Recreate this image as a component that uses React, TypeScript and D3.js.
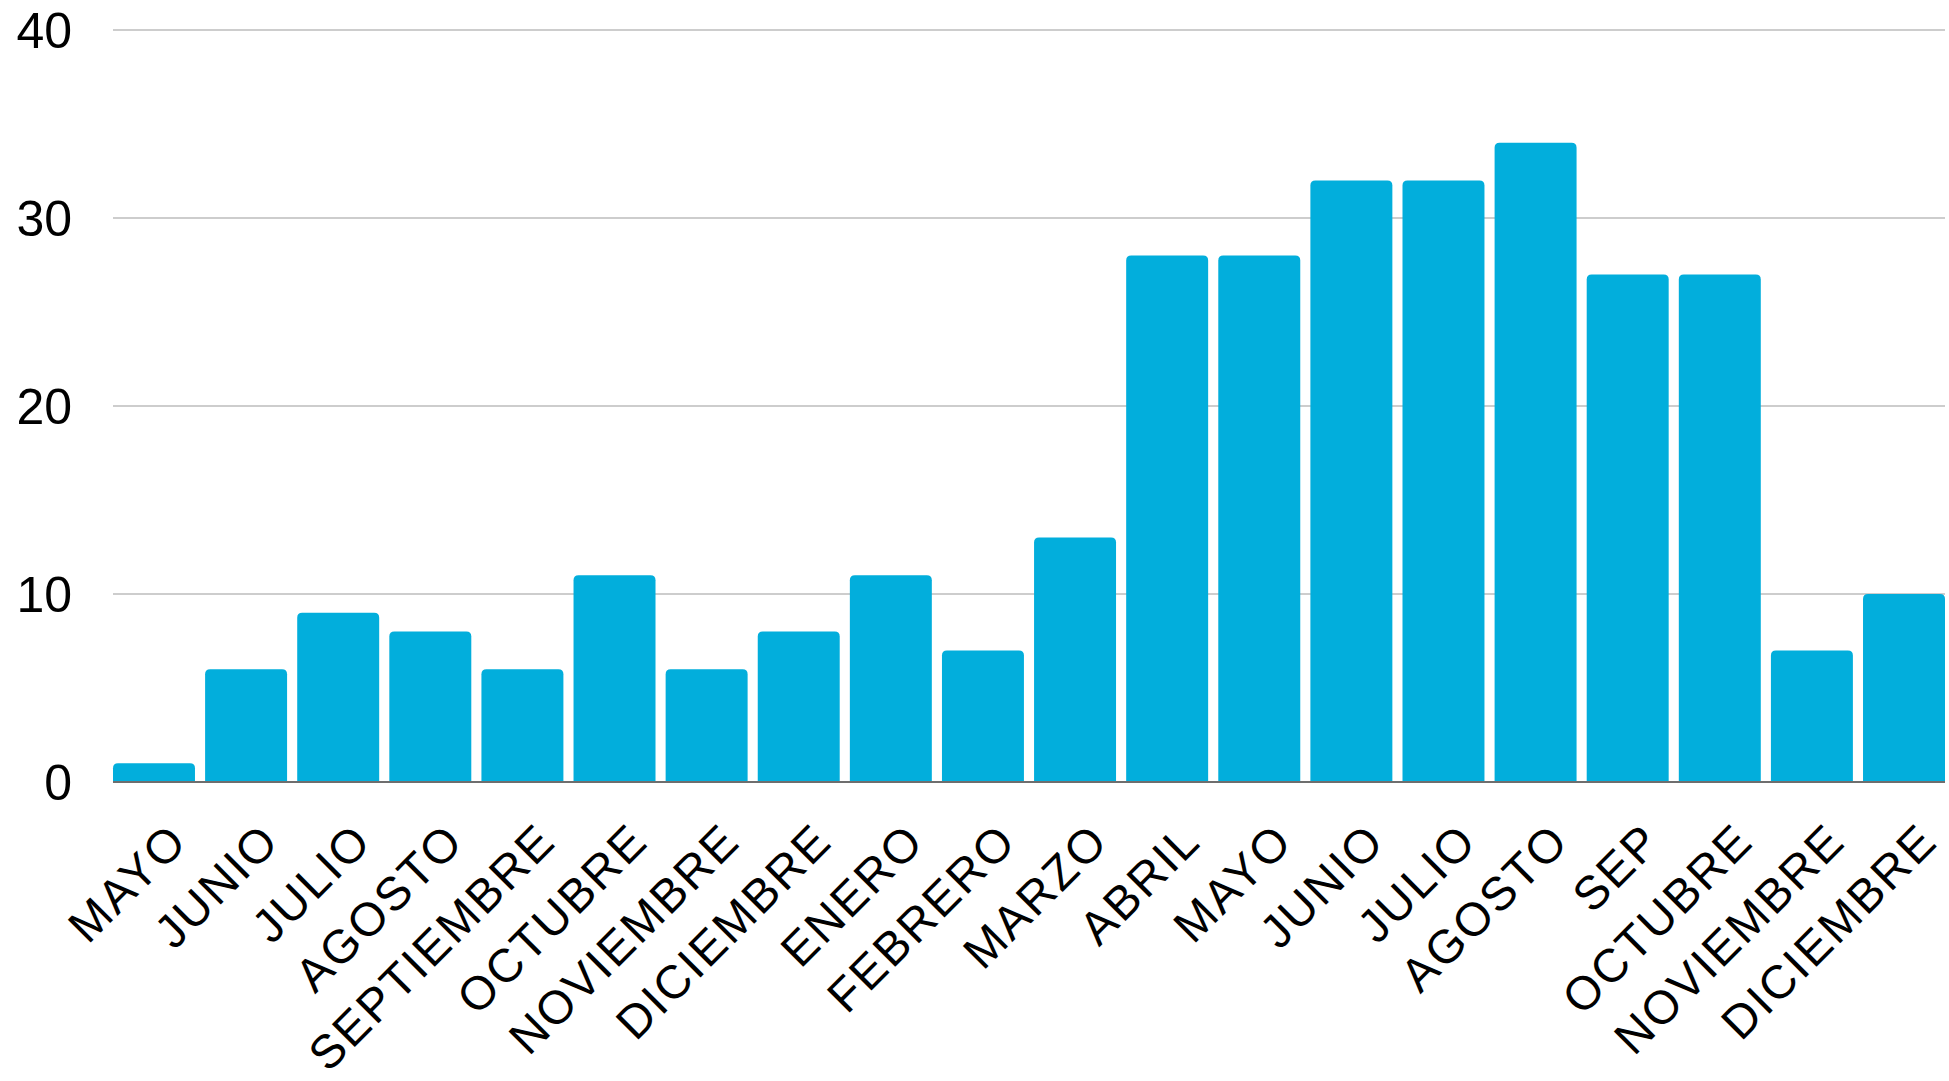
import { useMemo } from 'react';
import * as d3 from 'd3';

const months = [
  'MAYO', 'JUNIO', 'JULIO', 'AGOSTO', 'SEPTIEMBRE', 'OCTUBRE', 'NOVIEMBRE', 'DICIEMBRE',
  'ENERO', 'FEBRERO', 'MARZO', 'ABRIL', 'MAYO', 'JUNIO', 'JULIO', 'AGOSTO', 'SEP',
  'OCTUBRE', 'NOVIEMBRE', 'DICIEMBRE',
];
const values = [1, 6, 9, 8, 6, 11, 6, 8, 11, 7, 13, 28, 28, 32, 32, 34, 27, 27, 7, 10];
const yTicks = [0, 10, 20, 30, 40];

const WIDTH = 1949;
const HEIGHT = 1081;
const BAR_COLOR = '#02aedc';

// bar with rounded top corners only
function barPath(x: number, y: number, w: number, h: number, r: number) {
  const rr = Math.min(r, h, w / 2);
  return `M${x},${y + h}V${y + rr}Q${x},${y} ${x + rr},${y}H${x + w - rr}Q${x + w},${y} ${x + w},${y + rr}V${y + h}Z`;
}

export default function App() {
  const x = useMemo(
    () =>
      d3
        .scaleBand<number>()
        .domain(d3.range(months.length))
        .range([113, 1945])
        .paddingInner(0.11)
        .paddingOuter(0),
    []
  );
  const y = useMemo(() => d3.scaleLinear().domain([0, 40]).range([782, 30]), []);

  return (
    <svg
      width={WIDTH}
      height={HEIGHT}
      style={{ position: 'absolute', left: 0, top: 0, display: 'block', background: '#fff' }}
      fontFamily="'Liberation Sans', Arial, sans-serif"
    >
      {/* gridlines */}
      <g>
        {yTicks.filter((t) => t !== 0).map((t) => (
          <line key={t} x1={113} x2={1945} y1={y(t)} y2={y(t)} stroke="#bdbdbd" strokeWidth={1.5} />
        ))}
      </g>

      {/* y tick labels */}
      <g>
        {yTicks.map((t) => (
          <text key={t} x={72} y={y(t)} dy="0.35em" textAnchor="end" fontSize={50} fill="#000">
            {t}
          </text>
        ))}
      </g>

      {/* bars */}
      <g>
        {values.map((v, i) => {
          const bx = x(i)!;
          const by = y(v);
          return (
            <path
              key={i}
              d={barPath(bx, by, x.bandwidth(), y(0) - by, 5)}
              fill={BAR_COLOR}
            />
          );
        })}
      </g>

      {/* baseline */}
      <line x1={113} x2={1945} y1={y(0)} y2={y(0)} stroke="#6e6e6e" strokeWidth={2} />

      {/* x labels */}
      <g>
        {months.map((m, i) => {
          const cx = x(i)! + x.bandwidth() / 2 + 24;
          const cy = 832;
          return (
            <text
              key={i}
              x={cx}
              y={cy}
              dy="0.35em"
              textAnchor="end"
              fontSize={47}
              letterSpacing={2.2}
              fill="#000"
              transform={`rotate(-45 ${cx} ${cy})`}
            >
              {m}
            </text>
          );
        })}
      </g>
    </svg>
  );
}
